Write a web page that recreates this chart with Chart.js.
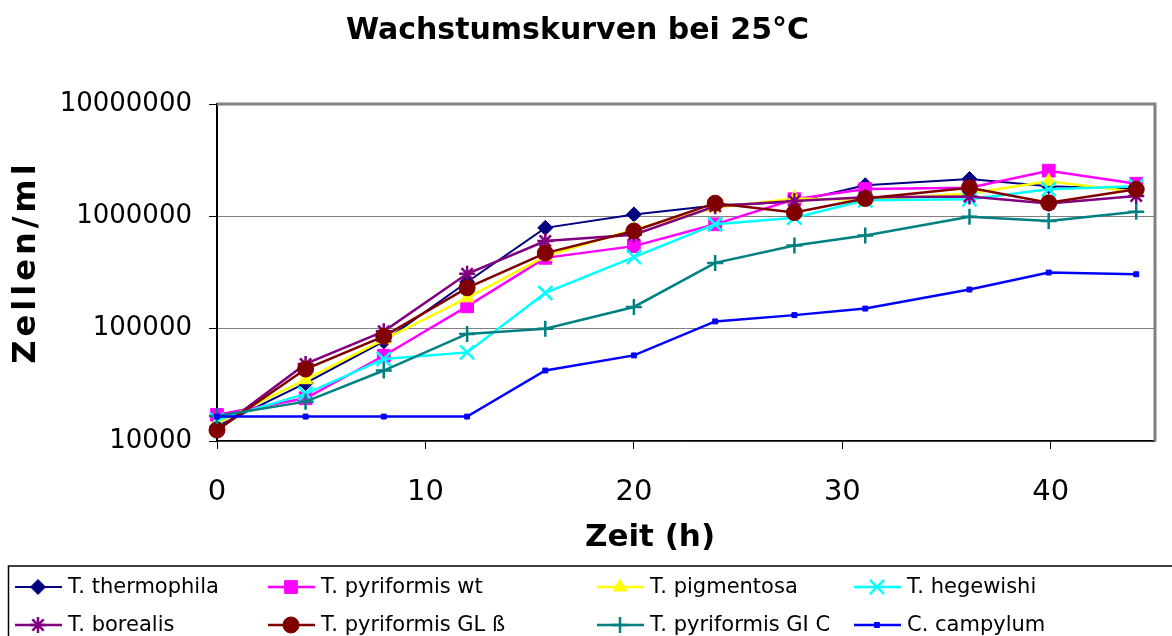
<!DOCTYPE html>
<html>
<head>
<meta charset="utf-8">
<script src="https://cdn.jsdelivr.net/npm/chart.js@4.4.1/dist/chart.umd.min.js"></script>
<style>
  body { margin: 0; background: #fff; }
  canvas { display: block; }
</style>
</head>
<body>
<canvas id="chart" width="1172" height="636"></canvas>
<script>
// Zeitpunkte (h)
const hours = [0, 4.25, 8, 12, 15.75, 20, 23.9, 27.7, 31.1, 36.1, 39.9, 44.1]

const thermophila = [13500, 32700, 77000, 260000, 790000, 1040000, 1250000, 1350000, 1890000, 2150000, 1850000, 1750000]
const pyriformisWt = [17100, 24000, 57400, 158000, 427000, 543000, 849000, 1420000, 1750000, 1800000, 2550000, 1950000]
const pigmentosa = [14400, 35100, 79800, 188000, 440000, 766000, 1190000, 1440000, 1400000, 1600000, 2050000, 1650000]
const hegewishi = [15400, 26300, 53700, 61500, 208000, 434000, 849000, 973000, 1390000, 1420000, 1740000, 1850000]
const borealis = [12500, 48500, 94600, 308000, 602000, 686000, 1230000, 1370000, 1480000, 1500000, 1300000, 1520000]
const pyriformisGLb = [12500, 43700, 85500, 231000, 471000, 740000, 1310000, 1080000, 1440000, 1800000, 1320000, 1740000]
const pyriformisGIC = [16700, 22400, 42400, 89800, 100000, 156000, 385000, 551000, 676000, 990000, 908000, 1100000]
const campylum = [16500, 16500, 16500, 16500, 42400, 57800, 116000, 132000, 151000, 223000, 316000, 305000]

const labels = ['T. thermophila', 'T. pyriformis wt', 'T. pigmentosa', 'T. hegewishi',
                'T. borealis', 'T. pyriformis GL ß', 'T. pyriformis GI C', 'C. campylum']
const series = [thermophila, pyriformisWt, pigmentosa, hegewishi, borealis, pyriformisGLb, pyriformisGIC, campylum]

const yTicks = [10000, 100000, 1000000, 10000000]
const xTicks = [0, 10, 20, 30, 40]

const colors = ['#000080', '#FF00FF', '#FFFF00', '#00FFFF', '#800080', '#800000', '#008080', '#0000FF']
const markers = ['rectRot', 'rect', 'triangle', 'crossRot', 'star', 'circle', 'cross', 'rect']
const markerSize = [7.5, 9, 8, 10, 8, 8, 8, 3.5]

Chart.defaults.font.family = '"DejaVu Sans", Verdana, sans-serif'
Chart.defaults.color = '#000'

const datasets = series.map((values, i) => ({
    label: labels[i],
    data: values.map((v, j) => ({ x: hours[j], y: v })),
    borderColor: colors[i],
    backgroundColor: colors[i],
    borderWidth: i === 0 ? 2 : 2.5,
    pointStyle: markers[i],
    pointRadius: markerSize[i],
    pointBackgroundColor: colors[i],
    pointBorderColor: colors[i],
    pointBorderWidth: (markers[i].startsWith('cross') || markers[i] === 'star') ? 2.5 : 1,
    order: -i,
    clip: false
}))

// grauer Rahmen oben und rechts
const framePlugin = {
    id: 'frame',
    beforeDatasetsDraw(chart) {
        const { ctx, chartArea: a } = chart
        ctx.save()
        ctx.strokeStyle = '#808080'
        ctx.lineWidth = 3
        ctx.beginPath()
        ctx.moveTo(a.left, a.top)
        ctx.lineTo(a.right, a.top)
        ctx.lineTo(a.right, a.bottom)
        ctx.stroke()
        ctx.restore()
    }
}

// Achsentitel
const axisTitlePlugin = {
    id: 'axisTitles',
    afterDraw(chart) {
        const ctx = chart.ctx
        ctx.save()
        ctx.fillStyle = '#000'
        ctx.textAlign = 'center'
        ctx.textBaseline = 'middle'
        ctx.font = 'bold 31px "DejaVu Sans"'
        ctx.fillText('Zeit (h)', 650, 538)
        ctx.translate(27, 264)
        ctx.rotate(-Math.PI / 2)
        ctx.letterSpacing = '4px'
        ctx.font = 'bold 32px "DejaVu Sans"'
        ctx.fillText('Zellen/ml', 2, 0)
        ctx.restore()
    }
}

const legendCols = [15, 268, 597, 854]
const legendRows = [587, 625]

const legendPlugin = {
    id: 'boxLegend',
    afterDraw(chart) {
        const ctx = chart.ctx
        ctx.save()
        ctx.strokeStyle = '#000'
        ctx.lineWidth = 1.5
        ctx.strokeRect(8.5, 566, 1180, 100)
        ctx.font = '21px "DejaVu Sans"'
        ctx.textBaseline = 'middle'
        chart.data.datasets.forEach((ds, i) => {
            const x = legendCols[i % 4]
            const y = legendRows[Math.floor(i / 4)]
            ctx.strokeStyle = ds.borderColor
            ctx.lineWidth = ds.borderWidth
            ctx.beginPath()
            ctx.moveTo(x, y)
            ctx.lineTo(x + 47, y)
            ctx.stroke()
            ctx.fillStyle = ds.pointBackgroundColor
            ctx.strokeStyle = ds.pointBorderColor
            ctx.lineWidth = ds.pointBorderWidth
            Chart.helpers.drawPoint(ctx, {
                pointStyle: ds.pointStyle,
                radius: ds.pointRadius,
                rotation: 0,
                borderWidth: ds.pointBorderWidth
            }, x + 23, y)
            ctx.fillStyle = '#000'
            ctx.fillText(ds.label, x + 53, y + 1)
        })
        ctx.restore()
    }
}

const config = {
    type: 'line',
    data: { datasets: datasets },
    options: {
        responsive: false,
        animation: false,
        devicePixelRatio: 1,
        layout: { padding: { left: 0, right: 17, top: 0, bottom: 76 } },
        plugins: {
            legend: { display: false },
            tooltip: { enabled: false },
            title: {
                display: true,
                text: 'Wachstumskurven bei 25°C',
                font: { size: 30, weight: 'bold' },
                color: '#000',
                padding: { top: 13, bottom: 55 }
            }
        },
        scales: {
            x: {
                type: 'linear',
                min: 0,
                max: 45,
                afterBuildTicks: s => { s.ticks = xTicks.map(v => ({ value: v })) },
                afterFit: s => { s.height = 119 },
                ticks: { font: { size: 29 }, padding: 26, maxRotation: 0 },
                grid: { drawOnChartArea: false, tickLength: 8, tickColor: '#000' },
                border: { color: '#000', width: 1.5 }
            },
            y: {
                type: 'logarithmic',
                min: 10000,
                max: 10000000,
                afterBuildTicks: s => { s.ticks = yTicks.map(v => ({ value: v })) },
                afterFit: s => { s.width = 217 },
                ticks: { font: { size: 26 }, padding: 17, callback: v => String(v) },
                grid: { color: '#808080', lineWidth: 1, tickLength: 8, tickColor: '#000' },
                border: { color: '#000', width: 2 }
            }
        }
    },
    plugins: [framePlugin, axisTitlePlugin, legendPlugin]
}

new Chart(document.getElementById('chart'), config)
</script>
</body>
</html>
